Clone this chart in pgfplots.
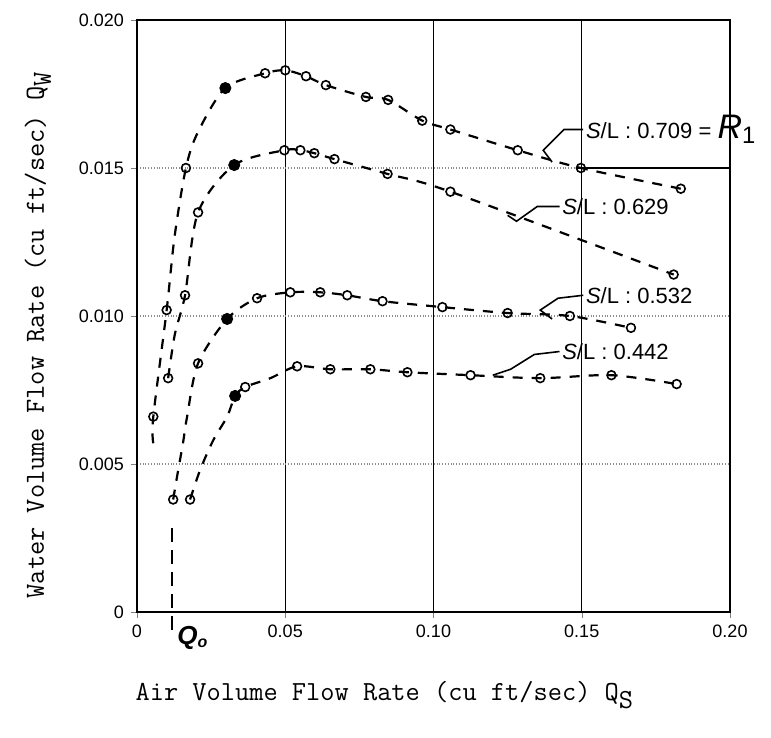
\documentclass[border=0pt]{standalone}
\usepackage{fontspec}
\setmainfont{Liberation Sans}
\usepackage{pgfplots}
\pgfplotsset{compat=1.18}

\begin{document}
\begin{tikzpicture}
\begin{axis}[
    scale only axis,
    width=296.5pt, height=296pt,
    xmin=0, xmax=0.2, ymin=0, ymax=0.02,
    xtick={0,0.05,0.1,0.15,0.2},
    xticklabels={0,0.05,0.10,0.15,0.20},
    ytick={0,0.005,0.01,0.015,0.02},
    yticklabels={0,0.005,0.010,0.015,0.020},
    scaled ticks=false,
    /pgf/number format/assume math mode=true,
    tick label style={font=\fontsize{9}{10}\selectfont},
    tick pos=left,
    tick align=outside,
    major tick length=3pt,
    xmajorgrids, ymajorgrids,
    x grid style={black, line width=0.6pt},
    y grid style={black!45, densely dotted, line width=0.6pt},
    axis line style={line width=0.9pt},
    clip=false,
    xlabel={Air Volume Flow Rate (cu ft/sec) Q$_{\texttt{S}}$},
    ylabel={Water Volume Flow Rate (cu ft/sec) Q$_{\texttt{W}}$},
    every axis x label/.style={at={(axis description cs:0.418,0)}, anchor=center,
        yshift=-41.5pt, font=\ttfamily\fontsize{13.8}{16}\selectfont},
    every axis y label/.style={at={(axis description cs:-0.167,0.468)}, rotate=90, anchor=center,
        font=\ttfamily\fontsize{13.8}{16}\selectfont},
    curve/.style={smooth, black, line width=1.1pt, dash pattern=on 5pt off 4.5pt},
    pts/.style={only marks, mark=o, mark size=2.2pt, mark options={solid, line width=0.8pt, fill=white}},
    full/.style={only marks, mark=*, mark size=2.8pt, black},
]

% S/L = 0.709
\addplot[curve] coordinates {
(0.0055,0.0057) (0.0055,0.0066) (0.0100,0.0102) (0.0127,0.0127) (0.0165,0.0150)
(0.0205,0.0162) (0.0298,0.0177) (0.0432,0.0182) (0.0500,0.0183) (0.0570,0.0181)
(0.0637,0.0178) (0.0772,0.0174) (0.0847,0.0173) (0.0962,0.0166) (0.1057,0.0163)
(0.1284,0.0156) (0.1497,0.0150) (0.1834,0.0143)};
\addplot[pts] coordinates {
(0.0055,0.0066) (0.0100,0.0102) (0.0165,0.0150) (0.0432,0.0182) (0.0500,0.0183)
(0.0570,0.0181) (0.0637,0.0178) (0.0772,0.0174) (0.0847,0.0173) (0.0962,0.0166)
(0.1057,0.0163) (0.1284,0.0156) (0.1497,0.0150) (0.1834,0.0143)};
\addplot[full] coordinates {(0.0298,0.0177)};

% S/L = 0.629
\addplot[curve] coordinates {
(0.0105,0.0079) (0.0128,0.0094) (0.0162,0.0107) (0.0206,0.0135) (0.0328,0.0151)
(0.0497,0.0156) (0.0551,0.0156) (0.0598,0.0155) (0.0666,0.0153) (0.0845,0.0148)
(0.1057,0.0142) (0.1810,0.0114)};
\addplot[pts] coordinates {
(0.0105,0.0079) (0.0162,0.0107) (0.0206,0.0135) (0.0497,0.0156) (0.0551,0.0156)
(0.0598,0.0155) (0.0666,0.0153) (0.0845,0.0148) (0.1057,0.0142) (0.1810,0.0114)};
\addplot[full] coordinates {(0.0328,0.0151)};

% S/L = 0.532
\addplot[curve] coordinates {
(0.0122,0.0038) (0.0139,0.0048) (0.0155,0.0057) (0.0169,0.0066) (0.0206,0.0084)
(0.0304,0.0099) (0.0405,0.0106) (0.0517,0.0108) (0.0618,0.0108) (0.0709,0.0107)
(0.0828,0.0105) (0.1030,0.0103) (0.1250,0.0101) (0.1460,0.0100) (0.1666,0.0096)};
\addplot[pts] coordinates {
(0.0122,0.0038) (0.0206,0.0084) (0.0405,0.0106) (0.0517,0.0108) (0.0618,0.0108)
(0.0709,0.0107) (0.0828,0.0105) (0.1030,0.0103) (0.1250,0.0101) (0.1460,0.0100)
(0.1666,0.0096)};
\addplot[full] coordinates {(0.0304,0.0099)};

% S/L = 0.442
\addplot[curve] coordinates {
(0.0179,0.0038) (0.0213,0.0048) (0.0257,0.0058) (0.0304,0.0066) (0.0331,0.0073)
(0.0365,0.0076) (0.0450,0.0079) (0.0540,0.0083) (0.0652,0.0082) (0.0787,0.0082)
(0.0912,0.0081) (0.1125,0.0080) (0.1360,0.0079) (0.1600,0.0080) (0.1820,0.0077)};
\addplot[pts] coordinates {
(0.0179,0.0038) (0.0365,0.0076) (0.0540,0.0083) (0.0652,0.0082) (0.0787,0.0082)
(0.0912,0.0081) (0.1125,0.0080) (0.1360,0.0079) (0.1600,0.0080) (0.1820,0.0077)};
\addplot[full] coordinates {(0.0331,0.0073)};

% Q0
\addplot[black, line width=1.1pt, dash pattern=on 7pt off 4pt] coordinates {(0.0118,-0.0006) (0.0118,0.0030)};
\node[anchor=north west, font=\bfseries\itshape\fontsize{13}{14}\selectfont, inner sep=1pt]
    at (axis cs:0.0128,-0.0004) {Q\textsubscript{\fontsize{8}{9}\selectfont o}};

\draw[black, line width=0.6pt] (axis cs:0.148,0.015) -- (axis cs:0.2,0.015);

% labels
\begin{scope}[line width=0.8pt]
\draw (axis cs:0.1505,0.0163) -- (axis cs:0.144,0.0163) -- (axis cs:0.137,0.0156) -- (axis cs:0.140,0.0152);
\node[anchor=west, font=\fontsize{11}{12}\selectfont, inner sep=1pt] at (axis cs:0.1505,0.0163)
    {\textit{S}/L : 0.709 = {\fontsize{17}{18}\selectfont\textit{R}\textsubscript{1}}};
\draw (axis cs:0.1425,0.0137) -- (axis cs:0.135,0.0137) -- (axis cs:0.128,0.0132) -- (axis cs:0.125,0.0134);
\node[anchor=west, font=\fontsize{11}{12}\selectfont, inner sep=1pt] at (axis cs:0.1425,0.0137)
    {\textit{S}/L : 0.629};
\draw (axis cs:0.1505,0.0107) -- (axis cs:0.142,0.0106) -- (axis cs:0.136,0.0102) -- (axis cs:0.140,0.0099);
\node[anchor=west, font=\fontsize{11}{12}\selectfont, inner sep=1pt] at (axis cs:0.1505,0.0107)
    {\textit{S}/L : 0.532};
\draw (axis cs:0.1425,0.0088) -- (axis cs:0.134,0.0087) -- (axis cs:0.126,0.0082) -- (axis cs:0.120,0.0080);
\node[anchor=west, font=\fontsize{11}{12}\selectfont, inner sep=1pt] at (axis cs:0.1425,0.0088)
    {\textit{S}/L : 0.442};
\end{scope}
\end{axis}
\pgfresetboundingbox
\path ([shift={(-68.5pt,-63pt)}]current axis.south west) rectangle ([shift={(20.5pt,10pt)}]current axis.north east);
\end{tikzpicture}
\end{document}
